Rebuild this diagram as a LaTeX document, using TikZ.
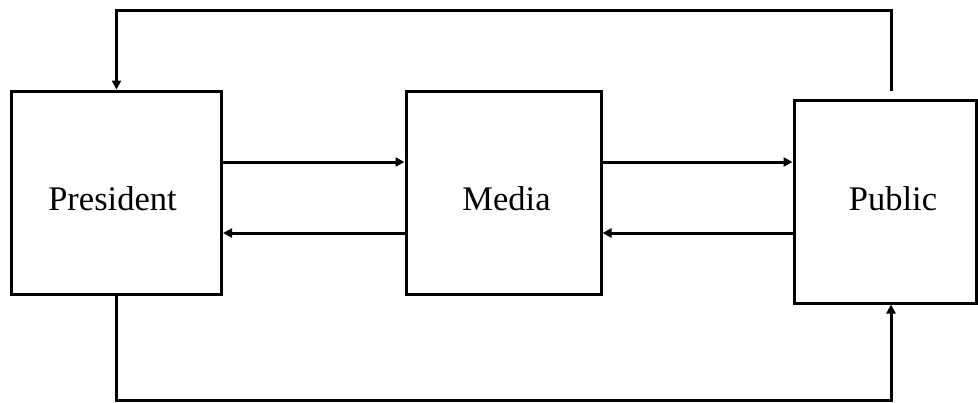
\documentclass[tikz,border=0pt]{standalone}
\usepackage{fontspec}
\setmainfont{Liberation Serif}
\usetikzlibrary{arrows.meta}
\begin{document}
\begin{tikzpicture}[x=1pt,y=-1pt,
  box/.style={draw,line width=3pt,minimum height=203pt,inner sep=0pt},
  lbl/.style={anchor=base,inner sep=0pt,font=\fontsize{34.5}{40}\selectfont},
  conn/.style={line width=3pt,-{Triangle[length=9pt,width=9pt]}}]
\useasboundingbox (0,0) rectangle (978,402);
\node[box,minimum width=210pt] (President) at (116.5,192.5) {};
\node[box,minimum width=195pt] (Media) at (503.5,192.5) {};
\node[box,minimum width=182.5pt] (Public) at (885.25,201.5) {};
\node[lbl] (PresidentText) at (112.5,210) {President};
\node[lbl] (MediaText) at (506.5,210) {Media};
\node[lbl] (PublicText) at (893,210) {Public};
\coordinate (topR) at (891,91);
\coordinate (yTop) at (0,10);
\coordinate (yBot) at (0,400);
\coordinate (yA) at (0,162);
\coordinate (yB) at (0,233);
\draw[conn] (topR) -- (topR |- yTop) -| (President.north);
\draw[conn] (President.south) -- (President.south |- yBot) -| (Public.south -| topR);
\draw[conn] (President.east |- yA) -- (Media.west |- yA);
\draw[conn] (Media.west |- yB) -- (President.east |- yB);
\draw[conn] (Media.east |- yA) -- (Public.west |- yA);
\draw[conn] (Public.west |- yB) -- (Media.east |- yB);
\end{tikzpicture}
\end{document}
